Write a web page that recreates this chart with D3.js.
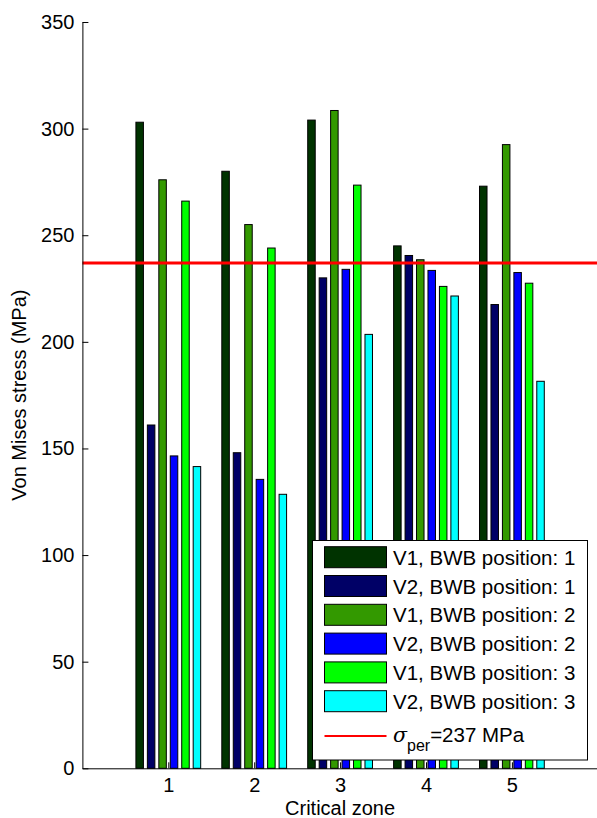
<!DOCTYPE html>
<html>
<head>
<meta charset="utf-8">
<script src="https://cdn.jsdelivr.net/npm/d3@7"></script>
<style>
  html, body { margin: 0; padding: 0; background: #fff; }
  svg { display: block; }
  text { font-family: "Liberation Sans", Arial, Helvetica, sans-serif; fill: #000; }
</style>
</head>
<body>
<svg id="chart" width="597" height="818"></svg>
<script>
// ---- data ----
const zones = [1, 2, 3, 4, 5];
const seriesNames = [
  "V1, BWB position: 1",
  "V2, BWB position: 1",
  "V1, BWB position: 2",
  "V2, BWB position: 2",
  "V1, BWB position: 3",
  "V2, BWB position: 3"
];
const v1pos1 = [303, 280, 304, 245, 273];
const v2pos1 = [161, 148, 230, 240.5, 217.5];
const v1pos2 = [276, 255, 308.5, 238.5, 292.5];
const v2pos2 = [146.5, 135.5, 234, 233.5, 232.5];
const v1pos3 = [266, 244, 273.5, 226, 227.5];
const v2pos3 = [141.5, 128.5, 203.5, 221.5, 181.5];
const seriesValues = [v1pos1, v2pos1, v1pos2, v2pos2, v1pos3, v2pos3];
const seriesColors = ["#003300", "#000066", "#339900", "#0000ff", "#00ff00", "#00ffff"];
const yTicks = [0, 50, 100, 150, 200, 250, 300, 350];
const sigmaPer = 237;
const sigmaLabel = "=237 MPa";

// ---- layout ----
const svg = d3.select("#chart");
const x = d3.scaleLinear().domain([0, 6]).range([82.4, 597.8]);
const y = d3.scaleLinear().domain([0, 350]).range([768.3, 22]);

const groupWidth = 0.8;
const nS = seriesValues.length;
const step = groupWidth / nS;        // spacing between bars within a group (units)
const barW = step * 0.655;           // bar width (units)

// bars
seriesValues.forEach((vals, si) => {
  const off = (si - (nS - 1) / 2) * step;
  svg.append("g").selectAll("rect")
    .data(zones.map((z, i) => ({ z, v: vals[i] })))
    .join("rect")
    .attr("x", d => x(d.z + off - barW / 2))
    .attr("width", x(barW) - x(0))
    .attr("y", d => y(d.v))
    .attr("height", d => y(0) - y(d.v))
    .attr("fill", seriesColors[si])
    .attr("stroke", "#000")
    .attr("stroke-width", 1);
});

// red permissible line
svg.append("line")
  .attr("x1", x(0)).attr("x2", x(6))
  .attr("y1", y(sigmaPer)).attr("y2", y(sigmaPer))
  .attr("stroke", "#ff0000").attr("stroke-width", 3);

// axes
const yAxis = d3.axisLeft(y).tickValues(yTicks).tickSize(-6).tickSizeOuter(0).tickPadding(8);
const gy = svg.append("g").attr("transform", `translate(${x(0)},0)`).call(yAxis);
gy.selectAll("text").style("font-size", "20px").attr("font-family", null);
gy.select(".domain").attr("stroke", "#000");

const xAxis = d3.axisBottom(x).tickValues(zones).tickFormat(d3.format("d")).tickSize(-6).tickSizeOuter(0).tickPadding(10);
const gx = svg.append("g").attr("transform", `translate(0,${y(0)})`).call(xAxis);
gx.selectAll("text").style("font-size", "20px").attr("font-family", null);
gx.select(".domain").attr("stroke", "#000");

// axis titles
svg.append("text")
  .attr("x", (x(0) + x(6)) / 2).attr("y", 815)
  .attr("text-anchor", "middle")
  .style("font-size", "20px")
  .text("Critical zone");

svg.append("text")
  .attr("transform", `translate(26,${(y(0) + y(350)) / 2}) rotate(-90)`)
  .attr("text-anchor", "middle")
  .style("font-size", "20px")
  .text("Von Mises stress (MPa)");

// legend
const lg = svg.append("g");
lg.append("rect")
  .attr("x", 312.5).attr("y", 540.5).attr("width", 275).attr("height", 219.5)
  .attr("fill", "#fff").attr("stroke", "#000").attr("stroke-width", 1);

const rowH = 28.8;
seriesNames.forEach((name, i) => {
  const top = 546.7 + i * rowH;
  lg.append("rect")
    .attr("x", 324.5).attr("y", top).attr("width", 62).attr("height", 21)
    .attr("fill", seriesColors[i]).attr("stroke", "#000").attr("stroke-width", 1);
  lg.append("text")
    .attr("x", 393).attr("y", top + 18)
    .style("font-size", "20.5px")
    .text(name);
});
lg.append("line")
  .attr("x1", 324.5).attr("x2", 386.5)
  .attr("y1", 736).attr("y2", 736)
  .attr("stroke", "#ff0000").attr("stroke-width", 2);
const st = lg.append("text").attr("x", 393).attr("y", 741.5).style("font-size", "20.5px");
st.append("tspan").style("font-style", "italic").attr("font-family", "DejaVu Serif, serif").text("σ");
st.append("tspan").attr("dy", 9).style("font-size", "16px").text("per");
st.append("tspan").attr("dy", -9).text(sigmaLabel);
</script>
</body>
</html>
